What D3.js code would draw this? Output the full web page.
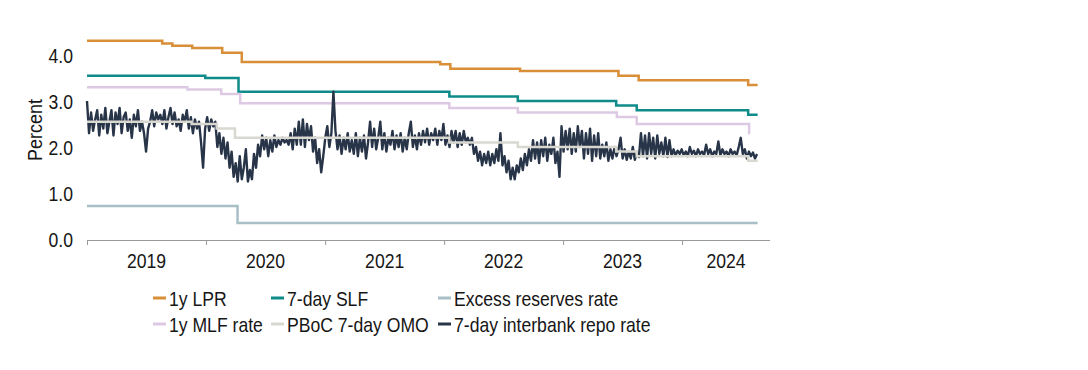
<!DOCTYPE html>
<html>
<head>
<meta charset="utf-8">
<script src="https://cdn.jsdelivr.net/npm/d3@7"></script>
<style>
  html, body { margin: 0; padding: 0; background: #fff; }
  #chart { width: 1088px; height: 370px; }
  text { font-family: "Liberation Sans", Arial, sans-serif; fill: #161616; }
</style>
</head>
<body>
<div id="chart"></div>
<script>
// step series: [date, value] change points, last entry = end of data
const lprSteps = [["2019-01-01", 4.31], ["2019-08-20", 4.25], ["2019-09-20", 4.20], ["2019-11-20", 4.15],
  ["2020-02-20", 4.05], ["2020-04-20", 3.85], ["2021-12-20", 3.80], ["2022-01-20", 3.70],
  ["2022-08-22", 3.65], ["2023-06-20", 3.55], ["2023-08-21", 3.45], ["2024-07-22", 3.35], ["2024-08-20", 3.35]];
const slfSteps = [["2019-01-01", 3.55], ["2019-12-30", 3.50], ["2020-04-10", 3.20], ["2022-01-17", 3.10],
  ["2022-08-15", 3.00], ["2023-06-13", 2.90], ["2023-08-15", 2.80], ["2024-07-22", 2.70], ["2024-08-20", 2.70]];
const excessSteps = [["2019-01-01", 0.72], ["2020-04-07", 0.35], ["2024-08-20", 0.35]];
const mlfSteps = [["2019-01-01", 3.30], ["2019-11-05", 3.25], ["2020-02-17", 3.15], ["2020-04-15", 2.95],
  ["2022-01-17", 2.85], ["2022-08-15", 2.75], ["2023-06-15", 2.65], ["2023-08-15", 2.50],
  ["2024-07-25", 2.30], ["2024-07-27", 2.30]];
const omoSteps = [["2019-01-01", 2.55], ["2019-11-18", 2.50], ["2020-02-03", 2.40], ["2020-03-30", 2.20],
  ["2022-01-17", 2.10], ["2022-08-15", 2.00], ["2023-06-13", 1.90], ["2023-08-15", 1.80],
  ["2024-07-22", 1.70], ["2024-08-20", 1.70]];

// 7-day interbank repo, one reading every 6.25 days from 2019-01-01
const repoStart = "2019-01-01";
const repoStepDays = 6.25;
const repoValues = [
  3.00, 2.30, 2.75, 2.35, 2.60, 2.80, 2.25, 2.70, 2.40, 2.85, 2.30, 2.55, 2.80, 2.25, 2.75, 2.50, 2.85, 2.30, 2.65, 2.75,
  2.35, 2.60, 2.20, 2.70, 2.45, 2.80, 2.35, 2.55, 2.30, 1.90, 2.40, 2.55, 2.80, 2.45, 2.75, 2.60, 2.70, 2.50, 2.80, 2.40,
  2.65, 2.85, 2.50, 2.75, 2.45, 2.60, 2.35, 2.70, 2.55, 2.80, 2.40, 2.65,
  2.30, 2.60, 2.40, 2.55, 2.10, 1.55, 2.40, 2.65, 2.35, 2.60, 2.45, 2.55, 2.00, 2.30, 1.85, 2.20, 1.75, 2.10,
  1.55, 1.90, 1.35, 1.65, 1.25, 1.80, 1.30, 1.55, 1.95, 1.25, 1.50, 1.30, 1.85, 1.55, 2.05, 1.80, 2.25, 1.95,
  2.20, 1.80, 2.15, 1.90, 2.25, 2.00, 2.15, 2.05, 2.20, 2.10, 2.15, 2.05, 2.30, 1.95, 2.40, 2.05,
  2.55, 2.05, 2.60, 2.00, 2.50, 2.15, 2.45, 1.90, 2.20, 1.65, 1.95, 1.45, 1.80, 2.20, 2.45, 2.00, 2.30, 3.20,
  2.35, 1.95, 2.25, 1.85, 2.20, 1.95, 2.30, 1.90, 2.15, 1.85, 2.30, 1.80, 2.20, 1.90, 2.25, 1.75, 2.10, 2.55,
  2.00, 2.40, 1.95, 2.20, 2.55, 1.95, 2.30, 1.90, 2.20, 2.05, 2.35, 1.95, 2.25, 2.00, 2.30, 1.90,
  2.20, 1.95, 2.30, 2.55, 2.00, 2.25, 1.95, 2.30, 2.05, 2.35, 2.10, 2.40, 2.05, 2.30, 2.15, 2.40, 2.05, 2.35,
  2.15, 2.50, 2.05, 2.25, 2.00, 2.35, 2.10, 2.35, 2.00, 2.30, 2.05, 2.35, 2.10, 2.20, 2.05, 2.20, 1.85, 2.00,
  1.70, 1.90, 1.60, 1.85, 1.65, 1.90, 1.60, 1.85, 1.65, 1.95, 1.70, 2.30, 1.60, 1.80, 1.45, 1.70,
  1.30, 1.55, 1.30, 1.60, 1.45, 1.75, 1.50, 1.85, 1.60, 1.95, 1.70, 2.15, 1.75, 2.10, 1.65, 2.15, 1.80, 2.20,
  1.70, 2.05, 1.85, 2.20, 1.65, 1.90, 1.35, 2.45, 1.90, 2.35, 1.95, 2.40, 1.85, 2.30, 1.90, 2.45, 2.00, 2.35,
  1.75, 2.30, 1.85, 2.40, 1.70, 2.25, 1.80, 2.30, 1.75, 2.05, 1.80, 2.10, 1.70, 1.95, 1.75, 2.00,
  1.80, 1.95, 2.20, 1.75, 1.95, 1.72, 1.90, 1.75, 2.00, 1.72, 1.90, 1.78, 2.30, 1.80, 2.25, 1.75, 2.30, 1.85,
  2.20, 1.75, 2.25, 1.85, 2.10, 1.80, 2.20, 1.78, 2.15, 1.80, 1.95, 1.82, 1.92, 1.85, 1.95, 1.82, 1.90, 1.80,
  2.00, 1.85, 1.92, 1.80, 1.95, 1.85, 1.90, 1.82, 2.05, 1.85, 1.95, 1.80, 1.90, 1.85, 2.12, 1.82, 1.95, 1.85,
  1.90, 1.80, 1.95, 1.85, 1.90, 1.82, 2.00, 2.20, 1.85, 1.95, 1.75, 1.90, 1.80, 1.88, 1.75, 1.85
];

const yTicks = [0, 1, 2, 3, 4];
const legendRows = [
  ["1y LPR", "7-day SLF", "Excess reserves rate"],
  ["1y MLF rate", "PBoC 7-day OMO", "7-day interbank repo rate"]
];
const colours = {
  "1y LPR": "#D98E38",
  "7-day SLF": "#0F8C89",
  "Excess reserves rate": "#A8BFC8",
  "1y MLF rate": "#DEC9E4",
  "PBoC 7-day OMO": "#D9D8D0",
  "7-day interbank repo rate": "#283549"
};

const parse = d3.timeParse("%Y-%m-%d");
const width = 1088, height = 370;
const fontSize = "20px";
const squeeze = 0.88; // the original typeface is narrower than Arial

const svg = d3.select("#chart").append("svg")
  .attr("width", width)
  .attr("height", height);

const x = d3.scaleTime()
  .domain([parse("2019-01-01"), parse("2024-09-27")])
  .range([87, 770]);
const y = d3.scaleLinear()
  .domain([0, 4.5])
  .range([239, 32]);

function label(g, tx, ty, str, anchor) {
  return g.append("text")
    .attr("transform", `translate(${tx},${ty}) scale(${squeeze},1)`)
    .attr("text-anchor", anchor || "start")
    .style("font-size", fontSize)
    .text(str);
}

// x axis
const xAxis = d3.axisBottom(x)
  .ticks(d3.timeYear.every(1))
  .tickSize(5)
  .tickFormat("");
const gx = svg.append("g")
  .attr("transform", "translate(0,240)")
  .call(xAxis);
gx.select(".domain").attr("stroke", "#999").attr("d", "M87,0.5H770");
gx.selectAll(".tick line").attr("stroke", "#999");

// year labels centred between year ticks
const yearStarts = d3.timeYear.range(parse("2019-01-01"), x.domain()[1]);
const gYears = svg.append("g");
yearStarts.forEach(d => {
  const next = d3.min([d3.timeYear.offset(d, 1), x.domain()[1]]);
  label(gYears, (x(d) + x(next)) / 2, 268, d.getFullYear(), "middle");
});

// y labels
const gY = svg.append("g");
yTicks.forEach(v => label(gY, 73, y(v) + 8, d3.format(".1f")(v), "end"));

svg.append("text")
  .attr("transform", "translate(42,130) rotate(-90) scale(0.9,1)")
  .attr("text-anchor", "middle")
  .style("font-size", fontSize)
  .text("Percent");

const stepLine = d3.line()
  .x(d => x(parse(d[0])))
  .y(d => y(d[1]))
  .curve(d3.curveStepAfter);

function drawSteps(data, name, w) {
  svg.append("path")
    .datum(data)
    .attr("fill", "none")
    .attr("stroke", colours[name])
    .attr("stroke-width", w)
    .attr("d", stepLine);
}

drawSteps(excessSteps, "Excess reserves rate", 2.5);
drawSteps(lprSteps, "1y LPR", 2.5);
drawSteps(slfSteps, "7-day SLF", 2.5);
drawSteps(mlfSteps, "1y MLF rate", 2.5);

const repoT0 = parse(repoStart);
const repoLine = d3.line()
  .x((d, i) => x(new Date(repoT0.getTime() + i * repoStepDays * 864e5)))
  .y(d => y(d));
svg.append("path")
  .datum(repoValues)
  .attr("fill", "none")
  .attr("stroke", colours["7-day interbank repo rate"])
  .attr("stroke-width", 2.4)
  .attr("stroke-linejoin", "round")
  .attr("d", repoLine);

drawSteps(omoSteps, "PBoC 7-day OMO", 2.5);

// legend
const colX = [153, 271, 438];
const rowY = [298, 324];
const gLeg = svg.append("g");
legendRows.forEach((row, r) => {
  row.forEach((name, c) => {
    gLeg.append("line")
      .attr("x1", colX[c]).attr("x2", colX[c] + 13)
      .attr("y1", rowY[r]).attr("y2", rowY[r])
      .attr("stroke", colours[name])
      .attr("stroke-width", 3);
    label(gLeg, colX[c] + 16, rowY[r] + 7.5, name);
  });
});
</script>
</body>
</html>
